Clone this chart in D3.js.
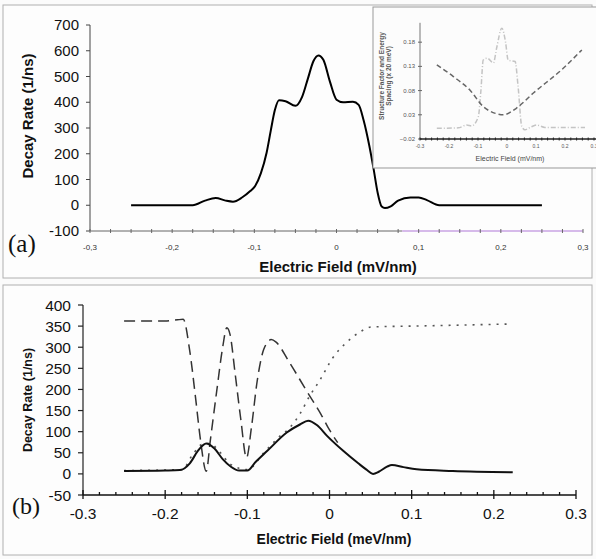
<!DOCTYPE html>
<html><head><meta charset="utf-8">
<script src="https://cdn.jsdelivr.net/npm/d3@7"></script>
<style>body{margin:0;background:#fbfbfb;}svg{display:block;}</style>
</head><body>
<script>
// ---------- DATA ----------
// Panel (a) main curve
const aX = [-0.25,-0.175,-0.16,-0.147,-0.135,-0.126,-0.115,-0.105,-0.099,-0.092,-0.085,-0.08,-0.075,-0.07,-0.062,-0.05,-0.042,-0.035,-0.028,-0.022,-0.016,-0.008,0.0,0.008,0.02,0.027,0.033,0.04,0.045,0.05,0.055,0.059,0.066,0.075,0.09,0.1,0.11,0.125,0.25];
const aY = [0,0,18,28,18,14,30,55,75,125,205,290,370,408,404,386,420,490,560,582,565,480,410,400,402,390,330,230,144,50,-5,-11,-4,18,30,30,20,0,0];
// Inset: structure factor (light) and energy spacing (dashed)
const sfX = [-0.242,-0.168,-0.139,-0.122,-0.099,-0.09,-0.082,-0.068,-0.047,-0.035,-0.018,-0.005,0.004,0.028,0.038,0.051,0.062,0.08,0.102,0.131,0.269];
const sfY = [0.002,0.003,0.009,0.007,0.026,0.08,0.143,0.147,0.137,0.17,0.209,0.18,0.143,0.14,0.09,0.006,-0.001,0.004,0.009,0.004,0.004];
const esX = [-0.242,-0.185,-0.128,-0.082,-0.04,-0.013,0.033,0.091,0.194,0.258];
const esY = [0.133,0.109,0.081,0.047,0.033,0.030,0.044,0.075,0.126,0.164];
const insetXTicks = ["-0.3","-0.2","-0.1","0","0.1","0.2","0.3"];
const insetYTicks = [0.18,0.13,0.08,0.03,-0.02];
// Panel (b)
const bSolidX = [-0.25,-0.2,-0.182,-0.17,-0.16,-0.15,-0.14,-0.13,-0.12,-0.11,-0.1,-0.09,-0.076,-0.052,-0.036,-0.026,-0.015,-0.003,0.017,0.035,0.045,0.053,0.06,0.07,0.076,0.09,0.106,0.15,0.223];
const bSolidY = [7,8,9,25,55,72,60,35,17,8,8,28,54,98,117,126,115,90,54,25,10,0,5,17,21,16,11,7,4];
const bDashX = [-0.25,-0.2,-0.185,-0.178,-0.17,-0.163,-0.157,-0.15,-0.145,-0.137,-0.13,-0.125,-0.121,-0.115,-0.108,-0.101,-0.095,-0.088,-0.08,-0.071,-0.065,-0.05,-0.028,-0.01,0.0,0.01];
const bDashY = [362,362,365,366,290,180,80,6,80,200,300,346,330,240,130,38,110,220,295,318,312,268,197,140,104,74];
const bDotX = [-0.25,-0.18,-0.165,-0.155,-0.145,-0.135,-0.12,-0.1,-0.08,-0.06,-0.05,-0.036,-0.024,-0.012,0.004,0.02,0.037,0.051,0.1,0.15,0.22];
const bDotY = [8,10,50,70,72,55,22,10,50,90,106,142,185,221,275,310,336,348,350,352,355];
const aYTicks = [700,600,500,400,300,200,100,0,-100];
const aXTicks = ["-0,3","-0,2","-0,1","0","0,1","0,2","0,3"];
const bYTicks = [400,350,300,250,200,150,100,50,0,-50];
const bXTicks = ["-0.3","-0.2","-0.1","0","0.1","0.2","0.3"];
const xTickVals = [-0.3,-0.2,-0.1,0,0.1,0.2,0.3];

// ---------- DRAW ----------
const W = 596, H = 559;
const FONT = "'Liberation Sans', Arial, Helvetica, sans-serif";
const svg = d3.select("body").append("svg").attr("width", W).attr("height", H)
  .style("font-family", FONT);

// panel frames
svg.append("rect").attr("x",3).attr("y",5).attr("width",589).attr("height",273)
  .attr("fill","#fdfdfd").attr("stroke","#b0b0b0").attr("stroke-width",1);
svg.append("rect").attr("x",3).attr("y",285).attr("width",589).attr("height",270)
  .attr("fill","#fdfdfd").attr("stroke","#b0b0b0").attr("stroke-width",1);

// ===== Panel (a) =====
const ax = d3.scaleLinear().domain([-0.3,0.3]).range([90,583]);
const ay = d3.scaleLinear().domain([-100,700]).range([231,25]);
const gA = svg.append("g");
gA.append("line").attr("x1",ax(-0.3)).attr("x2",ax(-0.3)).attr("y1",ay(700)).attr("y2",ay(-100))
  .attr("stroke","#444").attr("stroke-width",1);
gA.selectAll(".aytick").data(aYTicks).enter().append("line")
  .attr("x1",ax(-0.3)-4).attr("x2",ax(-0.3)).attr("y1",d=>ay(d)).attr("y2",d=>ay(d))
  .attr("stroke","#444");
gA.selectAll(".aylab").data(aYTicks).enter().append("text")
  .attr("x",79).attr("y",d=>ay(d)+5).attr("text-anchor","end")
  .attr("font-size",15).attr("fill","#111").text(d=>d);
gA.append("line").attr("x1",ax(-0.3)).attr("x2",ax(0.08)).attr("y1",ay(-100)).attr("y2",ay(-100))
  .attr("stroke","#666").attr("stroke-width",1);
gA.append("line").attr("x1",ax(0.08)).attr("x2",ax(0.3)).attr("y1",ay(-100)).attr("y2",ay(-100))
  .attr("stroke","#c9a3e3").attr("stroke-width",1.5);
gA.selectAll(".axtick").data(d3.range(0,25)).enter().append("line")
  .attr("x1",i=>ax(-0.3+i*0.025)).attr("x2",i=>ax(-0.3+i*0.025))
  .attr("y1",ay(-100)-2).attr("y2",ay(-100)+2).attr("stroke","#666");
gA.selectAll(".axlab").data(aXTicks).enter().append("text")
  .attr("x",(d,i)=>ax(xTickVals[i])).attr("y",250).attr("text-anchor","middle")
  .attr("font-size",8).attr("fill","#333").text(d=>d);
gA.append("text").attr("x",338).attr("y",272).attr("text-anchor","middle")
  .attr("font-size",15).attr("font-weight","bold").attr("fill","#111").text("Electric Field (mV/nm)");
gA.append("text").attr("transform","translate(33,116) rotate(-90)").attr("text-anchor","middle")
  .attr("font-size",15).attr("font-weight","bold").attr("fill","#111").text("Decay Rate (1/ns)");
gA.append("text").attr("x",8).attr("y",252).attr("font-family","'Liberation Serif','Times New Roman',serif")
  .attr("font-size",25).attr("fill","#111").text("(a)");
const lineA = d3.line().x((d,i)=>ax(aX[i])).y(d=>ay(d)).curve(d3.curveMonotoneX);
gA.append("path").attr("d",lineA(aY)).attr("fill","none").attr("stroke","#000").attr("stroke-width",2);

// ===== Inset =====
const gI = svg.append("g");
gI.append("rect").attr("x",373).attr("y",7).attr("width",230).attr("height",161)
  .attr("fill","#fcfcfc").attr("stroke","#999").attr("stroke-width",1);
const ix = d3.scaleLinear().domain([-0.3,0.3]).range([420,594]);
const iy = d3.scaleLinear().domain([-0.02,0.22]).range([139,22.8]);
gI.append("line").attr("x1",ix(-0.3)).attr("x2",ix(-0.3)).attr("y1",iy(0.22)).attr("y2",iy(-0.02))
  .attr("stroke","#777");
gI.selectAll(".iyt").data(insetYTicks).enter().append("line")
  .attr("x1",ix(-0.3)-2).attr("x2",ix(-0.3)+2).attr("y1",d=>iy(d)).attr("y2",d=>iy(d)).attr("stroke","#666");
gI.selectAll(".iyl").data(insetYTicks).enter().append("text")
  .attr("x",415).attr("y",d=>iy(d)+2).attr("text-anchor","end").attr("font-size",6).attr("fill","#555")
  .text(d=>d3.format(".2f")(d));
gI.append("line").attr("x1",ix(-0.3)).attr("x2",596).attr("y1",iy(-0.02)).attr("y2",iy(-0.02))
  .attr("stroke","#222").attr("stroke-width",1.5);
gI.selectAll(".ixt").data(d3.range(0,31)).enter().append("line")
  .attr("x1",i=>ix(-0.3+i*0.02)).attr("x2",i=>ix(-0.3+i*0.02))
  .attr("y1",iy(-0.02)-1.5).attr("y2",iy(-0.02)+1.5).attr("stroke","#222");
gI.selectAll(".ixl").data(insetXTicks).enter().append("text")
  .attr("x",(d,i)=>ix(xTickVals[i])).attr("y",148).attr("text-anchor","middle")
  .attr("font-size",5).attr("fill","#555").text(d=>d);
gI.append("text").attr("x",510).attr("y",161).attr("text-anchor","middle")
  .attr("font-size",7).attr("fill","#444").text("Electric Field (mV/nm)");
const ylab = gI.append("text").attr("transform","translate(384,76) rotate(-90)").attr("text-anchor","middle")
  .attr("font-size",6.5).attr("font-weight","bold").attr("fill","#555");
ylab.append("tspan").attr("x",0).attr("dy",0).text("Structure Factor and Energy");
ylab.append("tspan").attr("x",0).attr("dy",7).text("Spacing (x 20 meV)");
const lineSF = d3.line().x((d,i)=>ix(sfX[i])).y(d=>iy(d)).curve(d3.curveMonotoneX);
gI.append("path").attr("d",lineSF(sfY)).attr("fill","none").attr("stroke","#c4c4c4")
  .attr("stroke-width",1.5).attr("stroke-dasharray","5,2,1,2");
const lineES = d3.line().x((d,i)=>ix(esX[i])).y(d=>iy(d)).curve(d3.curveMonotoneX);
gI.append("path").attr("d",lineES(esY)).attr("fill","none").attr("stroke","#666")
  .attr("stroke-width",1.5).attr("stroke-dasharray","5,3");

// ===== Panel (b) =====
const bx = d3.scaleLinear().domain([-0.3,0.3]).range([83,576]);
const by = d3.scaleLinear().domain([-50,400]).range([495,305]);
const gB = svg.append("g");
gB.append("line").attr("x1",bx(-0.3)).attr("x2",bx(-0.3)).attr("y1",by(400)).attr("y2",by(-50))
  .attr("stroke","#222").attr("stroke-width",1.2);
gB.selectAll(".byt").data(bYTicks).enter().append("line")
  .attr("x1",bx(-0.3)-5).attr("x2",bx(-0.3)).attr("y1",d=>by(d)).attr("y2",d=>by(d)).attr("stroke","#222").attr("stroke-width",1.2);
gB.selectAll(".byl").data(bYTicks).enter().append("text")
  .attr("x",71).attr("y",d=>by(d)+5.5).attr("text-anchor","end").attr("font-size",15.5).attr("fill","#111").text(d=>d);
gB.append("line").attr("x1",bx(-0.3)).attr("x2",bx(0.3)).attr("y1",by(-50)).attr("y2",by(-50))
  .attr("stroke","#111").attr("stroke-width",1.5);
gB.selectAll(".bxm").data(d3.range(0,31)).enter().append("line")
  .attr("x1",i=>bx(-0.3+i*0.02)).attr("x2",i=>bx(-0.3+i*0.02))
  .attr("y1",i=>by(-50)-(i%5===0?5:3)).attr("y2",i=>by(-50)+(i%5===0?4:0)).attr("stroke","#111").attr("stroke-width",1.3);
gB.selectAll(".bxl").data(bXTicks).enter().append("text")
  .attr("x",(d,i)=>bx(xTickVals[i])).attr("y",519).attr("text-anchor","middle")
  .attr("font-size",15.5).attr("fill","#111").text(d=>d);
gB.append("text").attr("x",334).attr("y",544).attr("text-anchor","middle")
  .attr("font-size",14).attr("font-weight","bold").attr("fill","#111").text("Electric Field (meV/nm)");
gB.append("text").attr("transform","translate(32,400) rotate(-90)").attr("text-anchor","middle")
  .attr("font-size",12.5).attr("font-weight","bold").attr("fill","#111").text("Decay Rate (1/ns)");
gB.append("text").attr("x",12).attr("y",514).attr("font-family","'Liberation Serif','Times New Roman',serif")
  .attr("font-size",24).attr("fill","#111").text("(b)");
const lineBs = d3.line().x((d,i)=>bx(bSolidX[i])).y(d=>by(d)).curve(d3.curveMonotoneX);
const lineBd = d3.line().x((d,i)=>bx(bDashX[i])).y(d=>by(d)).curve(d3.curveMonotoneX);
const lineBo = d3.line().x((d,i)=>bx(bDotX[i])).y(d=>by(d)).curve(d3.curveMonotoneX);
gB.append("path").attr("d",lineBo(bDotY)).attr("fill","none").attr("stroke","#555")
  .attr("stroke-width",1.6).attr("stroke-dasharray","2,6");
gB.append("path").attr("d",lineBd(bDashY)).attr("fill","none").attr("stroke","#333")
  .attr("stroke-width",1.5).attr("stroke-dasharray","11,6");
gB.append("path").attr("d",lineBs(bSolidY)).attr("fill","none").attr("stroke","#111").attr("stroke-width",2);
</script>
</body></html>
